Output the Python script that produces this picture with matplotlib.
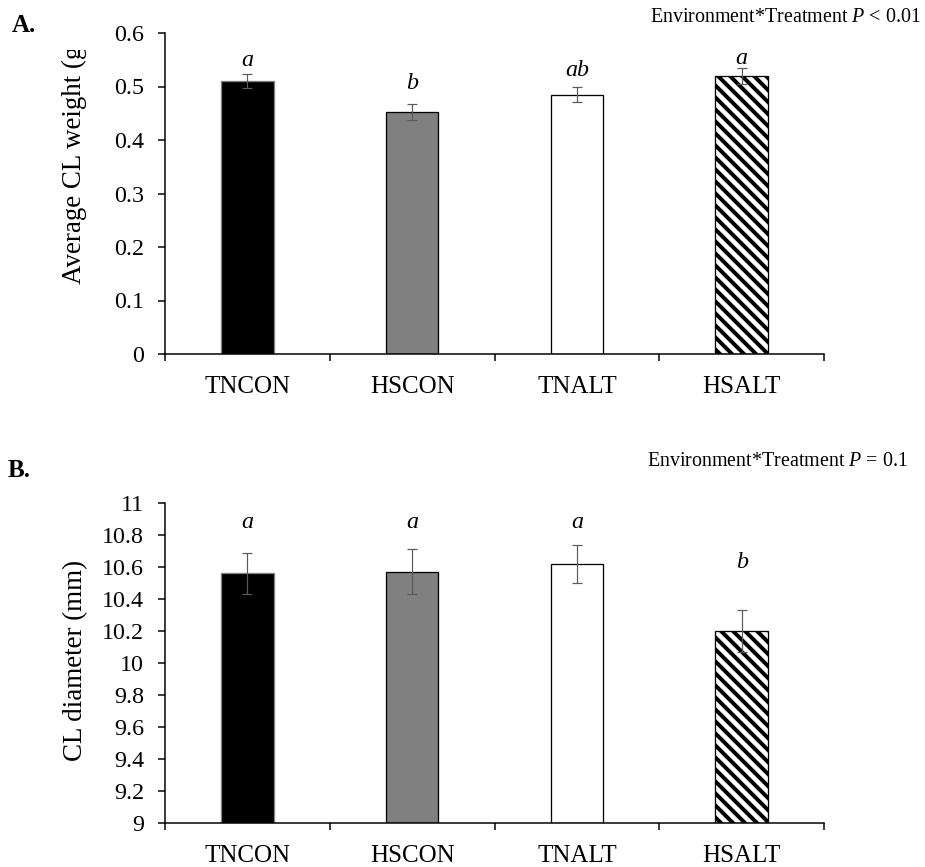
"""Two-panel bar chart: corpus luteum weight and diameter by treatment group."""

import matplotlib

matplotlib.use("Agg")
import matplotlib.pyplot as plt
import numpy as np
from matplotlib.transforms import Bbox

groups = ["TNCON", "HSCON", "TNALT", "HSALT"]

weight_mean = [0.510, 0.452, 0.485, 0.519]
weight_sem = [0.013, 0.015, 0.014, 0.015]
weight_letters = ["a", "b", "ab", "a"]
weight_letter_y = [0.548, 0.505, 0.529, 0.553]

diam_mean = [10.56, 10.57, 10.62, 10.20]
diam_sem = [0.13, 0.14, 0.12, 0.13]
diam_letters = ["a", "a", "a", "b"]
diam_letter_y = [10.88, 10.88, 10.88, 10.63]

fills = ["black", "#808080", "white", "black"]

W, H, DPI = 925, 867, 72
plt.rcParams["font.family"] = ["Liberation Serif", "DejaVu Serif"]
plt.rcParams["mathtext.fontset"] = "custom"
plt.rcParams["mathtext.it"] = "Liberation Serif:italic"
plt.rcParams["mathtext.rm"] = "Liberation Serif"
plt.rcParams["hatch.linewidth"] = 4.5


def draw_panel(ax, means, errs, letters, letter_y, ylim, yticks):
    x = np.arange(len(groups))
    width = 0.32
    for i, (m, fc) in enumerate(zip(means, fills)):
        if i == 3:
            ax.bar(x[i], m - ylim[0], width, bottom=ylim[0], color="black",
                   edgecolor="white", hatch="\\\\", linewidth=0, zorder=2)
            ax.bar(x[i], m - ylim[0], width, bottom=ylim[0], fill=False,
                   edgecolor="black", linewidth=1.3, zorder=3)
        else:
            ec = "#7f7f7f" if fc == "black" else "black"
            ax.bar(x[i], m - ylim[0], width, bottom=ylim[0], color=fc,
                   edgecolor=ec, linewidth=1.3, zorder=2)
    ax.errorbar(x, means, yerr=errs, fmt="none", ecolor="#5a5a5a",
                elinewidth=1.2, capsize=5, capthick=1.2, zorder=4)
    for xi, lab, ly in zip(x, letters, letter_y):
        ax.text(xi, ly, lab, ha="center", va="center", fontsize=24,
                style="italic")

    ax.set_xlim(-0.5, len(groups) - 0.5)
    ax.set_ylim(*ylim)
    ax.set_yticks(yticks)
    ax.set_yticklabels([f"{t:g}" for t in yticks], fontsize=24)
    ax.set_xticks(x)
    ax.set_xticklabels(groups, fontsize=25)
    ax.set_xticks(np.arange(len(groups) + 1) - 0.5, minor=True)
    ax.tick_params(axis="x", which="major", length=0, pad=22)
    ax.tick_params(axis="x", which="minor", length=7, width=1.5, direction="out")
    ax.tick_params(axis="y", length=7, width=1.5, direction="out", pad=14)
    for side in ["top", "right"]:
        ax.spines[side].set_visible(False)
    for side in ["left", "bottom"]:
        ax.spines[side].set_linewidth(1.5)


fig = plt.figure(figsize=(W / DPI, H / DPI), dpi=DPI)
ax_a = fig.add_axes([165 / W, 1 - 354 / H, 659 / W, 321 / H])
ax_b = fig.add_axes([165 / W, 1 - 823 / H, 659 / W, 320 / H])

draw_panel(ax_a, weight_mean, weight_sem, weight_letters, weight_letter_y,
           (0, 0.6), np.round(np.arange(0, 0.61, 0.1), 1))
draw_panel(ax_b, diam_mean, diam_sem, diam_letters, diam_letter_y,
           (9, 11), np.round(np.arange(9, 11.01, 0.2), 1))

# y-axis titles; the top of the panel A title is cut off in the original
lab_a = fig.text(74 / W, 1 - 160 / H, "Average CL weight (g)", fontsize=27,
                 rotation=90, ha="center", va="center")
lab_a.set_clip_box(Bbox([[0, 0], [W, H - 50]]))
lab_a.set_clip_on(True)
fig.text(76 / W, 1 - 660 / H, "CL diameter (mm)", fontsize=27,
         rotation=90, ha="center", va="center")

fig.text(12 / W, 1 - 26 / H, "A.", fontsize=25, fontweight="bold",
         ha="left", va="center")
fig.text(8 / W, 1 - 470 / H, "B.", fontsize=25, fontweight="bold",
         ha="left", va="center")
fig.text(921 / W, 1 - 18 / H, r"Environment*Treatment $P$ < 0.01",
         fontsize=20, ha="right", va="center")
fig.text(908 / W, 1 - 462 / H, r"Environment*Treatment $P$ = 0.1",
         fontsize=20, ha="right", va="center")

fig.savefig("out.png", dpi=DPI, facecolor="white")
